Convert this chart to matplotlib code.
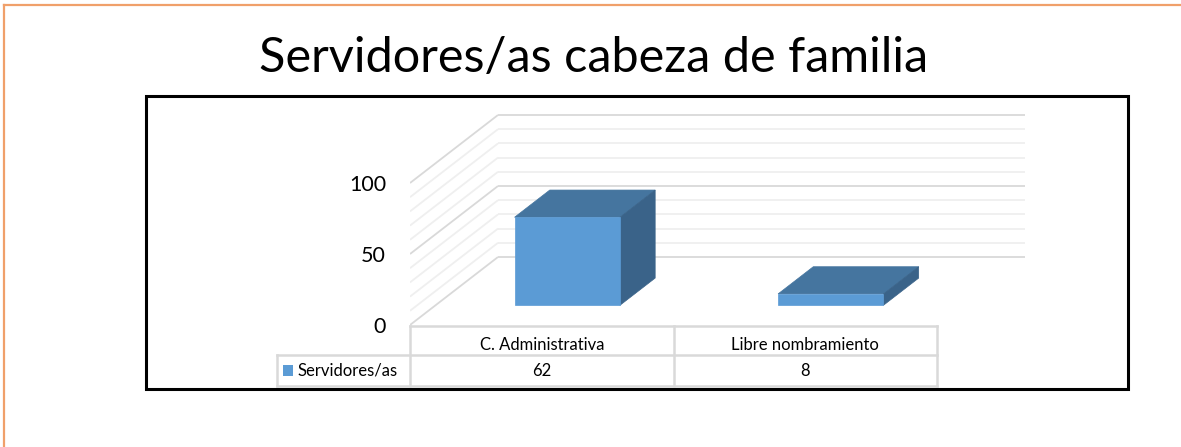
import numpy as np
import matplotlib
matplotlib.use("Agg")
import matplotlib.pyplot as plt
from matplotlib.patches import Polygon

plt.rcParams['font.family'] = ['Lato', 'DejaVu Sans']

# data
categories = ["C. Administrativa", "Libre nombramiento"]
series_name = "Servidores/as"
values = [62, 8]
y_ticks = [0, 50, 100]
title = "Servidores/as cabeza de familia"

# layout in pixels (figure is 1181 x 447)
W, H = 1181, 447
FRONT_LEFT, FRONT_Y0 = 410, 325      # front plane: x of first category edge, y of value 0
CAT_PX = 263.5                       # pixels per category
VAL_PX = 1.42                        # pixels per unit of value
DEPTH_DX, DEPTH_DY = 88, 68          # 3D depth shift of the back wall
BACK_RIGHT, BACK_TOP = 1027, 114
BAR_W = 0.4                          # bar width in category units
F0, F1 = 0.29, 0.69                  # bar front/back as fraction of depth

FRONT_C = '#5b9bd5'
TOP_C = '#45759f'
SIDE_C = '#3a6389'

fig = plt.figure(figsize=(W / 100, H / 100), dpi=100)

# background layer in pixel coordinates
bg = fig.add_axes([0, 0, 1, 1])
bg.set_xlim(0, W)
bg.set_ylim(H, 0)
bg.axis('off')

bg.plot([4, W], [5, 5], color='#f0a06a', lw=1.6)
bg.plot([4, 4], [5, H], color='#f0a06a', lw=1.6)
bg.add_patch(plt.Rectangle((146, 96), 982, 293, fill=False, ec='black', lw=2.2))
bg.text(594, 58, title, ha='center', va='center', fontsize=35)

# 3D chart on its own axes, data units = categories x values
left = FRONT_LEFT / W
bottom = (H - FRONT_Y0) / H
ax = fig.add_axes([left, bottom, (BACK_RIGHT - FRONT_LEFT) / W, (FRONT_Y0 - BACK_TOP) / H])
ax.set_xlim(-0.5, -0.5 + (BACK_RIGHT - FRONT_LEFT) / CAT_PX)
ax.set_ylim(0, (FRONT_Y0 - BACK_TOP) / VAL_PX)
ax.axis('off')

DX = DEPTH_DX / CAT_PX
DY = DEPTH_DY / VAL_PX
n = len(categories)

for v in range(0, 101, 10):
    major = v % 50 == 0
    c = '#d9d9d9' if major else '#efefef'
    ax.plot([-0.5 + DX, n - 0.5 + DX], [v + DY, v + DY], color=c, lw=1.3,
            solid_capstyle='butt', zorder=1)
    ax.plot([-0.5, -0.5 + DX], [v, v + DY], color=c, lw=1.3,
            solid_capstyle='butt', zorder=1)

for i, val in enumerate(values):
    xl = i - BAR_W / 2
    xr = i + BAR_W / 2
    a0x, a0y = F0 * DX, F0 * DY
    a1x, a1y = F1 * DX, F1 * DY
    top = [(xl + a0x, val + a0y), (xr + a0x, val + a0y), (xr + a1x, val + a1y), (xl + a1x, val + a1y)]
    side = [(xr + a0x, a0y), (xr + a1x, a1y), (xr + a1x, val + a1y), (xr + a0x, val + a0y)]
    front = [(xl + a0x, a0y), (xr + a0x, a0y), (xr + a0x, val + a0y), (xl + a0x, val + a0y)]
    ax.add_patch(Polygon(top, closed=True, fc=TOP_C, ec=TOP_C, lw=0.5, zorder=3))
    ax.add_patch(Polygon(side, closed=True, fc=SIDE_C, ec=SIDE_C, lw=0.5, zorder=3))
    ax.add_patch(Polygon(front, closed=True, fc=FRONT_C, ec=FRONT_C, lw=0.5, zorder=3))

# value axis labels on the front plane
for t in y_ticks:
    bg.text(FRONT_LEFT - 24, FRONT_Y0 - t * VAL_PX + 2, str(t), ha='right', va='center', fontsize=15.5)

# data table
grid_c = '#d9d9d9'
row1, row2, row3 = 325.5, 355, 386
edges = [FRONT_LEFT + k * CAT_PX for k in range(n + 1)]
bg.plot([edges[0], edges[-1]], [row1, row1], color=grid_c, lw=1.8)
bg.plot([277, edges[-1]], [row2, row2], color=grid_c, lw=1.8)
bg.plot([277, edges[-1]], [row3, row3], color=grid_c, lw=1.8)
bg.plot([277, 277], [row2, row3], color=grid_c, lw=1.8)
for e in edges:
    bg.plot([e, e], [row1, row3], color=grid_c, lw=1.8)

for i, (cat, val) in enumerate(zip(categories, values)):
    cx = FRONT_LEFT + (i + 0.5) * CAT_PX
    bg.text(cx, 345, cat, ha='center', va='center', fontsize=12)
    bg.text(cx, 371, str(val), ha='center', va='center', fontsize=12)

bg.add_patch(plt.Rectangle((283, 365), 10, 11, fc=FRONT_C, ec='none'))
bg.text(298, 371, series_name, ha='left', va='center', fontsize=12)

fig.savefig("out.png", dpi=100)
